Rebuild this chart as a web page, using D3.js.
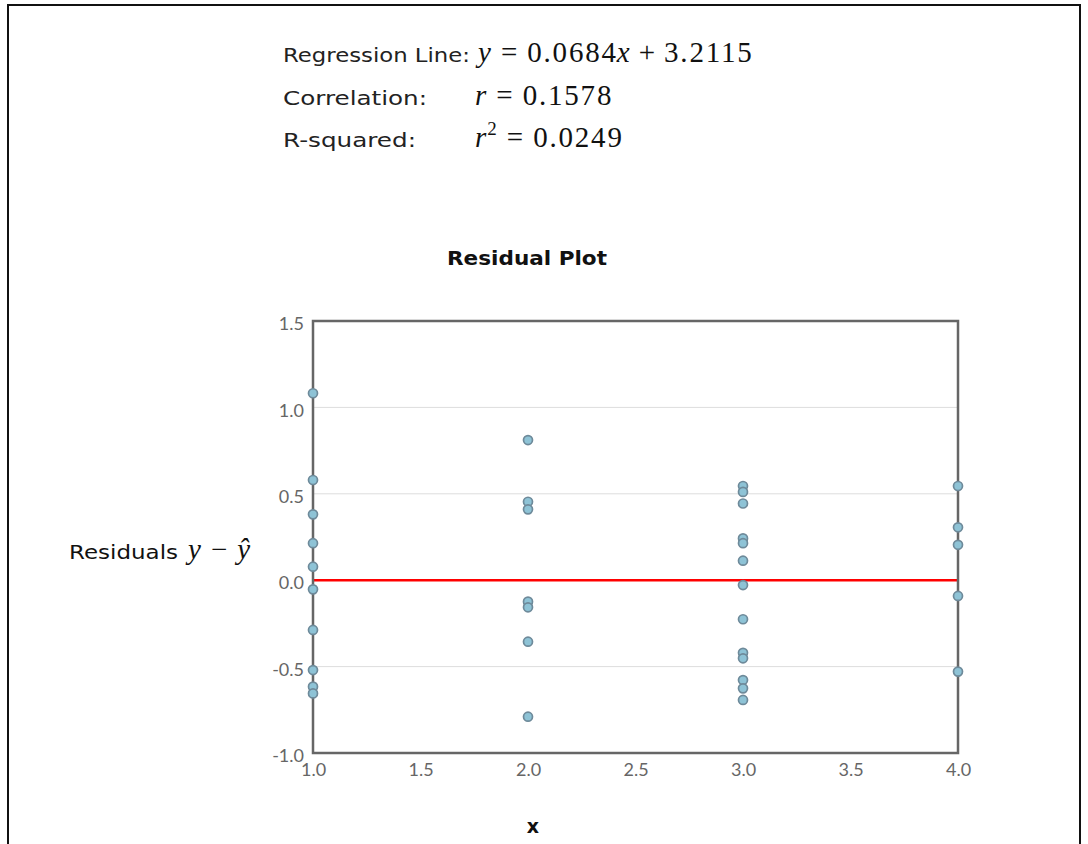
<!DOCTYPE html>
<html lang="en">
<head>
    <meta charset="UTF-8">
    <title>residual plot</title>
    <script src="https://cdn.jsdelivr.net/npm/d3@7"></script>
    <style>
        body { margin: 0; background: #fff; }
        .sans { font-family: "DejaVu Sans", sans-serif; }
        .math { font-family: "Liberation Serif", "DejaVu Serif", serif; }
        .math .v { font-style: italic; }
        .math .n { letter-spacing: 1.8px; }
        g.axis text { fill: #666; font-size: 18px; font-family: "Lato", sans-serif; }
        g.axis path, g.axis line { display: none; }
        circle.pt { fill: #8ec3d6; stroke: #6e8a9a; stroke-width: 1.7px; }
    </style>
</head>
<body>
<svg width="1088" height="844"></svg>
<script>
    // residuals, grouped by x
    let xs = [
        1, 1, 1, 1, 1, 1, 1, 1, 1, 1,
        2, 2, 2, 2, 2, 2, 2,
        3, 3, 3, 3, 3, 3, 3, 3, 3, 3, 3, 3, 3,
        4, 4, 4, 4, 4
    ]
    let residuals = [
        1.082, 0.58, 0.381, 0.214, 0.078, -0.053, -0.288, -0.52, -0.616, -0.655,
        0.811, 0.454, 0.41, -0.124, -0.157, -0.356, -0.79,
        0.545, 0.511, 0.444, 0.242, 0.214, 0.113, -0.028, -0.226, -0.42, -0.452, -0.578, -0.626, -0.693,
        0.545, 0.306, 0.205, -0.091, -0.529
    ]
    let xTicks = [1.0, 1.5, 2.0, 2.5, 3.0, 3.5, 4.0]
    let yTicks = [-1.0, -0.5, 0.0, 0.5, 1.0, 1.5]
    let gridVals = [-0.5, 0.5, 1.0]

    let svg = d3.select('svg')

    // outer frame
    svg.append('rect').attr('x', 8).attr('y', 5).attr('width', 1072).attr('height', 850)
        .attr('fill', 'none').attr('stroke', '#111').attr('stroke-width', 2)

    // stats block: label, math pieces [kind, text, dx]
    let stats = [
        {label: 'Regression Line:', w: 187, y: 62, mx: 478,
            parts: [['v', 'y', 0], ['o', '=', 10], ['n', '0.0684', 10], ['v', 'x', -1], ['o', '+', 9], ['n', '3.2115', 9]]},
        {label: 'Correlation:', w: 144, y: 105, mx: 475,
            parts: [['v', 'r', 0], ['o', '=', 10], ['n', '0.1578', 10]]},
        {label: 'R-squared:', w: 133, y: 147, mx: 475,
            parts: [['v', 'r', 0], ['sup', '2', 1], ['o', '=', 10], ['n', '0.0249', 10]]}
    ]
    stats.forEach(function (s) {
        svg.append('text').attr('class', 'sans').attr('x', 283).attr('y', s.y)
            .attr('font-size', 20).attr('fill', '#222')
            .attr('textLength', s.w).attr('lengthAdjust', 'spacingAndGlyphs').text(s.label)
        let t = svg.append('text').attr('class', 'math').attr('x', s.mx).attr('y', s.y)
            .attr('font-size', 29).attr('fill', '#111')
        let lift = 0
        s.parts.forEach(function (p) {
            let ts = t.append('tspan').attr('dx', p[2])
            if (p[0] === 'sup') {
                ts.attr('font-size', 19).attr('dy', -12).text(p[1])
                lift = 12
            } else {
                ts.attr('class', p[0]).text(p[1])
                if (lift) { ts.attr('dy', lift); lift = 0 }
            }
        })
    })

    let plot = {left: 313, right: 958, top: 321, bottom: 753}
    let xScale = d3.scaleLinear().domain([1, 4]).range([plot.left, plot.right])
    let yScale = d3.scaleLinear().domain([-1, 1.5]).range([plot.bottom, plot.top])
    let fmt = function (d) { return d3.format('.1f')(d).replace('\u2212', '-') }

    // title
    svg.append('text').attr('class', 'sans').attr('x', 447).attr('y', 265)
        .attr('font-size', 19).attr('font-weight', 'bold')
        .attr('textLength', 160).attr('lengthAdjust', 'spacingAndGlyphs')
        .attr('fill', '#111').text('Residual Plot')

    // grid
    svg.append('g').selectAll('line').data(gridVals).join('line')
        .attr('x1', plot.left).attr('x2', plot.right)
        .attr('y1', function (d) { return yScale(d) }).attr('y2', function (d) { return yScale(d) })
        .attr('stroke', '#ddd').attr('stroke-width', 1)

    // axes (labels only)
    svg.append('g').attr('class', 'axis')
        .attr('transform', 'translate(' + plot.left + ',3)')
        .call(d3.axisLeft(yScale).tickValues(yTicks).tickSize(0).tickPadding(9).tickFormat(fmt))
    svg.append('g').attr('class', 'axis')
        .attr('transform', 'translate(0,' + (plot.bottom + 8) + ')')
        .call(d3.axisBottom(xScale).tickValues(xTicks).tickSize(0).tickPadding(2).tickFormat(fmt))

    // zero line
    svg.append('line')
        .attr('x1', xScale(1)).attr('x2', xScale(4))
        .attr('y1', yScale(0)).attr('y2', yScale(0))
        .attr('stroke', '#f00').attr('stroke-width', 2.5)

    // frame
    svg.append('rect').attr('x', plot.left).attr('y', plot.top)
        .attr('width', plot.right - plot.left).attr('height', plot.bottom - plot.top)
        .attr('fill', 'none').attr('stroke', '#666').attr('stroke-width', 2.5)

    // points
    svg.append('g').selectAll('circle').data(residuals).join('circle')
        .attr('class', 'pt')
        .attr('cx', function (d, i) { return xScale(xs[i]) })
        .attr('cy', function (d) { return yScale(d) })
        .attr('r', 4.5)

    // axis titles
    svg.append('text').attr('class', 'sans').attr('x', 533).attr('y', 833)
        .attr('text-anchor', 'middle').attr('font-size', 19).attr('font-weight', 'bold')
        .attr('fill', '#111').text('x')

    svg.append('text').attr('class', 'sans').attr('x', 69).attr('y', 559)
        .attr('font-size', 20).attr('fill', '#111')
        .attr('textLength', 109).attr('lengthAdjust', 'spacingAndGlyphs').text('Residuals')
    let yl = svg.append('text').attr('class', 'math').attr('x', 188).attr('y', 559)
        .attr('font-size', 29).attr('fill', '#111')
    yl.append('tspan').attr('class', 'v').text('y')
    yl.append('tspan').attr('dx', 10).text('\u2212')
    yl.append('tspan').attr('dx', 10).attr('class', 'v').text('\u0177')
</script>
</body>
</html>
